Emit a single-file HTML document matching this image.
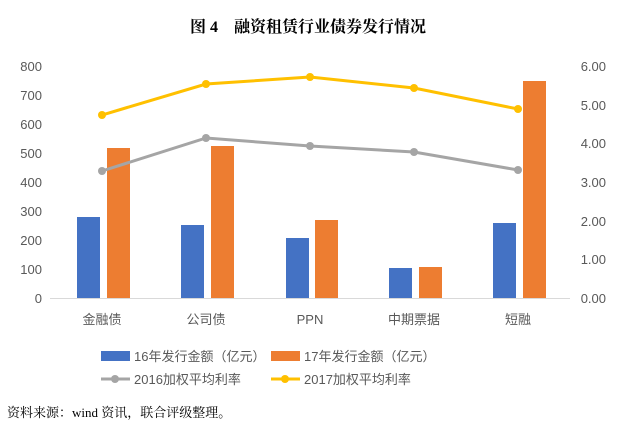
<!DOCTYPE html>
<html><head><meta charset="utf-8"><style>
body{margin:0;background:#fff;width:617px;height:428px;overflow:hidden}
text{font-family:"Liberation Sans","Noto Sans CJK SC",sans-serif}
</style></head><body>
<svg width="617" height="428" xmlns="http://www.w3.org/2000/svg">
<text x="308" y="32" text-anchor="middle" font-size="16" font-weight="bold" fill="#000" style="font-family:'Liberation Serif','Noto Serif CJK SC',serif">图 4　融资租赁行业债券发行情况</text>
<g font-size="13" fill="#595959">
<text x="42" y="71" text-anchor="end">800</text>
<text x="42" y="100" text-anchor="end">700</text>
<text x="42" y="129" text-anchor="end">600</text>
<text x="42" y="158" text-anchor="end">500</text>
<text x="42" y="187" text-anchor="end">400</text>
<text x="42" y="216" text-anchor="end">300</text>
<text x="42" y="245" text-anchor="end">200</text>
<text x="42" y="274" text-anchor="end">100</text>
<text x="42" y="303" text-anchor="end">0</text>
<text x="606" y="71" text-anchor="end">6.00</text>
<text x="606" y="110" text-anchor="end">5.00</text>
<text x="606" y="148" text-anchor="end">4.00</text>
<text x="606" y="187" text-anchor="end">3.00</text>
<text x="606" y="226" text-anchor="end">2.00</text>
<text x="606" y="264" text-anchor="end">1.00</text>
<text x="606" y="303" text-anchor="end">0.00</text>
<text x="102" y="324" text-anchor="middle">金融债</text>
<text x="206" y="324" text-anchor="middle">公司债</text>
<text x="310" y="324" text-anchor="middle">PPN</text>
<text x="414" y="324" text-anchor="middle">中期票据</text>
<text x="518" y="324" text-anchor="middle">短融</text>
</g>
<line x1="50" y1="298.5" x2="570" y2="298.5" stroke="#d9d9d9"/>
<g fill="#4472C4">
<rect x="77" y="217" width="23" height="81"/>
<rect x="181" y="225" width="23" height="73"/>
<rect x="286" y="238" width="23" height="60"/>
<rect x="389" y="268" width="23" height="30"/>
<rect x="493" y="223" width="23" height="75"/>
</g>
<g fill="#ED7D31">
<rect x="107" y="148" width="23" height="150"/>
<rect x="211" y="146" width="23" height="152"/>
<rect x="315" y="220" width="23" height="78"/>
<rect x="419" y="267" width="23" height="31"/>
<rect x="523" y="81" width="23" height="217"/>
</g>
<polyline points="102,171 206,138 310,146 414,152 518,170" fill="none" stroke="#A5A5A5" stroke-width="3"/>
<g fill="#A5A5A5"><circle cx="102" cy="171" r="4"/><circle cx="206" cy="138" r="4"/><circle cx="310" cy="146" r="4"/><circle cx="414" cy="152" r="4"/><circle cx="518" cy="170" r="4"/></g>
<polyline points="102,115 206,84 310,77 414,88 518,109" fill="none" stroke="#FFC000" stroke-width="3"/>
<g fill="#FFC000"><circle cx="102" cy="115" r="4"/><circle cx="206" cy="84" r="4"/><circle cx="310" cy="77" r="4"/><circle cx="414" cy="88" r="4"/><circle cx="518" cy="109" r="4"/></g>
<g font-size="13" fill="#595959">
<rect x="101" y="351" width="29" height="10" fill="#4472C4"/>
<text x="134" y="361">16年发行金额（亿元）</text>
<rect x="271" y="351" width="29" height="10" fill="#ED7D31"/>
<text x="304" y="361">17年发行金额（亿元）</text>
<line x1="101" y1="379" x2="130" y2="379" stroke="#A5A5A5" stroke-width="3"/><circle cx="115" cy="379" r="4" fill="#A5A5A5"/>
<text x="134" y="384">2016加权平均利率</text>
<line x1="271" y1="379" x2="300" y2="379" stroke="#FFC000" stroke-width="3"/><circle cx="285" cy="379" r="4" fill="#FFC000"/>
<text x="304" y="384">2017加权平均利率</text>
</g>
<text x="7" y="417" font-size="13" fill="#000" style="font-family:'Liberation Serif','Noto Serif CJK SC',serif">资料来源：wind 资讯，联合评级整理。</text>
</svg>
</body></html>
